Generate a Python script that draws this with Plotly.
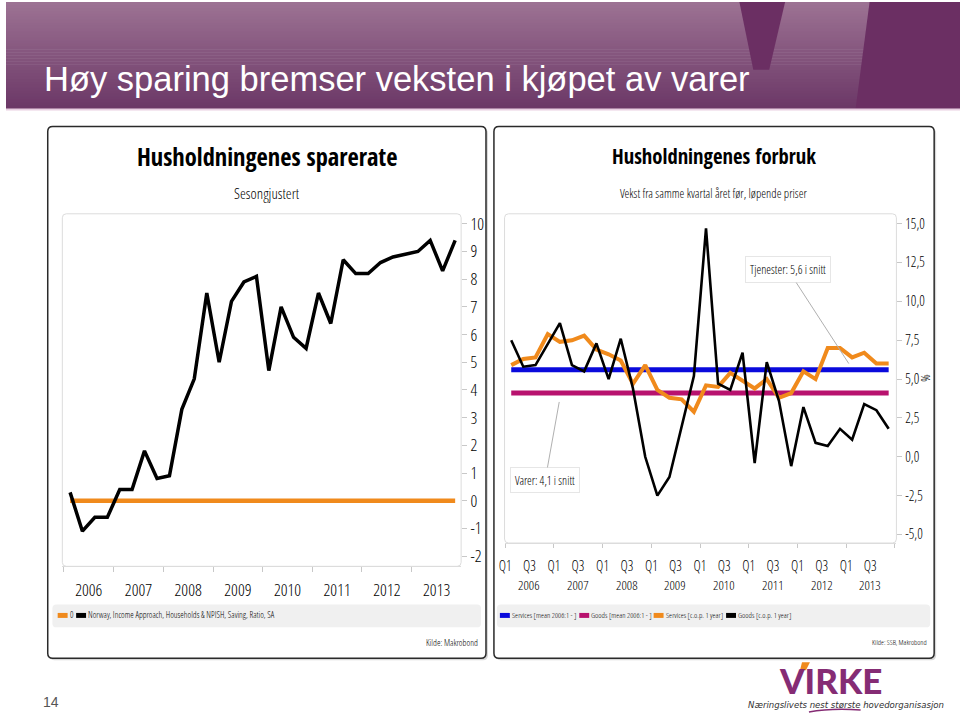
import plotly.graph_objects as go

W, H = 960, 717

# ---------------- data ----------------
years = [2006, 2007, 2008, 2009, 2010, 2011, 2012, 2013]
quarter_months = ["01", "04", "07", "10"]
quarters = [f"{y}-{m}-01" for y in years for m in quarter_months]

# Left panel: household saving ratio (seasonally adjusted), %
saving_ratio = [0.3, -1.1, -0.6, -0.6, 0.4, 0.4, 1.8, 0.8,
                0.9, 3.3, 4.4, 7.5, 5.0, 7.2, 7.9, 8.1,
                4.7, 7.0, 5.9, 5.5, 7.5, 6.4, 8.7, 8.2,
                8.2, 8.6, 8.8, 8.9, 9.0, 9.4, 8.3, 9.4]
zero_line = [0.0] * len(quarters)

# Right panel: consumption growth y/y, current prices, %
services_cop = [5.9, 6.3, 6.4, 7.9, 7.4, 7.5, 7.8, 6.9,
                6.6, 6.2, 4.7, 5.9, 4.3, 3.8, 3.7, 2.9,
                4.6, 4.5, 5.4, 4.9, 4.4, 5.0, 3.8, 4.1,
                5.5, 5.0, 7.0, 7.0, 6.4, 6.7, 6.0, 6.0]
goods_cop = [7.5, 5.8, 5.9, 7.3, 8.6, 5.9, 5.5, 7.3,
             5.0, 7.6, 4.4, 0.0, -2.5, -1.3, 1.9, 5.2,
             14.7, 4.7, 4.3, 6.7, -0.4, 6.1, 3.6, -0.6,
             3.2, 0.9, 0.7, 1.8, 1.1, 3.4, 3.0, 1.8]
services_mean_value = 5.6
goods_mean_value = 4.1
services_mean = [services_mean_value] * len(quarters)
goods_mean = [goods_mean_value] * len(quarters)

left_ytick_vals = [-2, -1, 0, 1, 2, 3, 4, 5, 6, 7, 8, 9, 10]
left_ytick_text = ["-2", "-1", "0", "1", "2", "3", "4", "5", "6", "7", "8", "9", "10"]
right_ytick_vals = [-5, -2.5, 0, 2.5, 5, 7.5, 10, 12.5, 15]
right_ytick_text = ["-5,0", "-2,5", "0,0", "2,5", "5,0", "7,5", "10,0", "12,5", "15,0"]
right_xtick_vals = [d for y in years for d in (f"{y}-01-01", f"{y}-07-01")]
right_xtick_text = [t for y in years for t in ("Q1", "Q3")]
right_year_labels = [str(y) for y in years]

left_legend = ["0", "Norway, Income Approach, Households & NPISH, Saving, Ratio, SA"]
right_legend = ["Services [mean 2006:1 - ]", "Goods [mean 2006:1 - ]",
                "Services [c.o.p. 1 year]", "Goods [c.o.p. 1 year]"]

# ---------------- styles ----------------
NARROW = "Open Sans Condensed Light, sans-serif"
NARROW_W = 300
NARROW_BOLD = "Open Sans Condensed, sans-serif"
SANS = "Liberation Sans, Arial, sans-serif"
ORANGE = "#F08A1C"
BLUE = "#0A0ADC"
MAGENTA = "#B8126E"
BLACK = "#000000"
COND = 0.73        # Open Sans Condensed Light width relative to Arial
COND_BOLD = 0.867  # Open Sans Condensed Bold width relative to Arial regular

_AW = {" ": 278, "!": 278, "[": 278, "]": 278, "(": 333, ")": 333, ",": 278, ".": 278,
       "-": 333, ":": 278, "&": 667, "%": 889, "å": 556, "ø": 611, "æ": 889}
for ch in "0123456789":
    _AW[ch] = 556
for ch, w in zip("abcdefghijklmnopqrstuvwxyz",
                 [556, 556, 500, 556, 556, 278, 556, 556, 222, 222, 500, 222, 833, 556, 556,
                  556, 556, 333, 500, 278, 556, 500, 722, 500, 500, 500]):
    _AW[ch] = w
for ch, w in zip("ABCDEFGHIJKLMNOPQRSTUVWXYZ",
                 [667, 667, 722, 722, 667, 611, 778, 722, 278, 500, 667, 556, 833, 722, 778,
                  667, 778, 722, 667, 611, 722, 667, 944, 667, 667, 611]):
    _AW[ch] = w


def text_w(s, size, factor=COND):
    return sum(_AW.get(c, 556) for c in s) / 1000 * size * factor


def fit(s, target, factor=COND):
    return target / text_w(s, 1, factor)


def px(x):
    return x / W


def py(y):
    return 1 - y / H


def rrect(x0, y0, x1, y1, r):
    pts = [
        ("M", [(x0 + r, y0)]), ("L", [(x1 - r, y0)]), ("Q", [(x1, y0), (x1, y0 + r)]),
        ("L", [(x1, y1 - r)]), ("Q", [(x1, y1), (x1 - r, y1)]), ("L", [(x0 + r, y1)]),
        ("Q", [(x0, y1), (x0, y1 - r)]), ("L", [(x0, y0 + r)]), ("Q", [(x0, y0), (x0 + r, y0)]),
    ]
    s = ""
    for cmd, coords in pts:
        s += cmd + " " + " ".join(f"{px(a):.5f},{py(b):.5f}" for a, b in coords) + " "
    return s + "Z"


def poly(points):
    s = "M " + " L ".join(f"{px(a):.5f},{py(b):.5f}" for a, b in points)
    return s + " Z"


def nfont(size, color="black"):
    return dict(family=NARROW, size=size, color=color, weight=NARROW_W)


fig = go.Figure()
period_kw = dict(xperiod="M3", xperiodalignment="middle", showlegend=False)

fig.add_trace(go.Scatter(x=quarters, y=zero_line, mode="lines", name=left_legend[0],
                         line=dict(color=ORANGE, width=4.5), xaxis="x", yaxis="y", **period_kw))
fig.add_trace(go.Scatter(x=quarters, y=saving_ratio, mode="lines", name=left_legend[1],
                         line=dict(color=BLACK, width=3.5), xaxis="x", yaxis="y", **period_kw))
fig.add_trace(go.Scatter(x=quarters, y=services_mean, mode="lines", name=right_legend[0],
                         line=dict(color=BLUE, width=5), xaxis="x2", yaxis="y2", **period_kw))
fig.add_trace(go.Scatter(x=quarters, y=goods_mean, mode="lines", name=right_legend[1],
                         line=dict(color=MAGENTA, width=5), xaxis="x2", yaxis="y2", **period_kw))
fig.add_trace(go.Scatter(x=quarters, y=services_cop, mode="lines", name=right_legend[2],
                         line=dict(color=ORANGE, width=4), xaxis="x2", yaxis="y2", **period_kw))
fig.add_trace(go.Scatter(x=quarters, y=goods_cop, mode="lines", name=right_legend[3],
                         line=dict(color=BLACK, width=2.6), xaxis="x2", yaxis="y2", **period_kw))

shapes = []
annotations = []

# ---------- header band ----------
top_c = (156, 114, 147)
bot_c = (108, 56, 103)
n_bands = 36
band_h = 107 / n_bands
for i in range(n_bands):
    t = i / (n_bands - 1)
    c = tuple(int(round(top_c[k] + (bot_c[k] - top_c[k]) * t)) for k in range(3))
    shapes.append(dict(type="rect", xref="paper", yref="paper", layer="below",
                       x0=0, x1=1, y0=py(i * band_h + band_h + 0.5), y1=py(i * band_h),
                       fillcolor=f"rgb{c}", line=dict(width=0)))
shapes.append(dict(type="path", xref="paper", yref="paper", layer="below",
                   path=poly([(738, 0), (784, 0), (768, 68), (752, 68)]),
                   fillcolor="#6B2F63", line=dict(width=0)))
shapes.append(dict(type="path", xref="paper", yref="paper", layer="below",
                   path=poly([(869, 0), (960, 0), (960, 107), (855, 107)]),
                   fillcolor="#6B2F63", line=dict(width=0)))
shapes.append(dict(type="rect", xref="paper", yref="paper", layer="below",
                   x0=0, x1=1, y0=py(109), y1=py(107),
                   fillcolor="#E9CFE2", line=dict(width=0)))

annotations.append(dict(text="Høy sparing bremser veksten i kjøpet av varer",
                        x=px(37), y=py(77), xref="paper", yref="paper",
                        xanchor="left", yanchor="middle", showarrow=False, borderpad=0,
                        font=dict(family=SANS, size=34.5, color="white")))

# ---------- panel frames ----------
for (x0, x1) in [(42, 483), (491, 934)]:
    shapes.append(dict(type="path", xref="paper", yref="paper", layer="below",
                       path=rrect(x0 + 2, 127, x1 + 2, 661, 5),
                       fillcolor="#D8D8D8", line=dict(width=0)))
    shapes.append(dict(type="path", xref="paper", yref="paper", layer="below",
                       path=rrect(x0, 125, x1, 659, 5),
                       fillcolor="white", line=dict(color="#2A2A2A", width=1.5)))

shapes.append(dict(type="path", xref="paper", yref="paper", layer="below",
                   path=rrect(56.7, 212.7, 458, 566.7, 4),
                   fillcolor="white", line=dict(color="#DCDCDC", width=1)))
shapes.append(dict(type="path", xref="paper", yref="paper", layer="below",
                   path=rrect(501.7, 212.7, 896, 543.3, 4),
                   fillcolor="white", line=dict(color="#DCDCDC", width=1)))
shapes.append(dict(type="path", xref="paper", yref="paper", layer="below",
                   path=rrect(46.7, 605, 478, 628, 4),
                   fillcolor="#F0F0F0", line=dict(width=0)))
shapes.append(dict(type="path", xref="paper", yref="paper", layer="below",
                   path=rrect(494, 605, 930, 628, 4),
                   fillcolor="#F0F0F0", line=dict(width=0)))


def ann(text, x, y, font, xanchor="center", **kw):
    annotations.append(dict(text=text, x=px(x), y=py(y),
                            xref="paper", yref="paper", xanchor=xanchor, yanchor="middle",
                            showarrow=False, font=font, **kw))


t1 = "Husholdningenes sparerate"
t2 = "Husholdningenes forbruk"
for t, cx, w in [(t1, 262.5, 259), (t2, 712.5, 199)]:
    ann(t, cx, 155, dict(family=NARROW_BOLD, size=fit(t, w, COND_BOLD), color="black", weight=700))
s1 = "Sesongjustert"
s2 = "Vekst fra samme kvartal året før, løpende priser"
ann(s1, 262.5, 192, nfont(fit(s1, 67)))
ann(s2, 712, 192, nfont(fit(s2, 190)))
k1 = "Kilde: Makrobond"
k2 = "Kilde: SSB, Makrobond"
ann(k1, 477, 643, nfont(fit(k1, 51)), xanchor="right")
ann(k2, 928.5, 643, nfont(fit(k2, 56)), xanchor="right")
ann("%", 925, 378, nfont(13), textangle=90)

# year labels under the quarter labels of the right chart
for y, lab in zip(years, right_year_labels):
    annotations.append(dict(text=lab, x=f"{y}-07-01", y=py(585), xref="x2", yref="paper",
                            xanchor="center", yanchor="middle", showarrow=False,
                            font=nfont(13.5)))


# ---------- custom legends ----------
def legend_row(x_start, entries, size):
    x = x_start
    for col, label in entries:
        shapes.append(dict(type="rect", xref="paper", yref="paper",
                           x0=px(x), x1=px(x + 10), y0=py(618.5), y1=py(613.5),
                           fillcolor=col, line=dict(width=0)))
        ann(label, x + 11, 616, nfont(size), xanchor="left", borderpad=0)
        x += 11 + text_w(label, size) + 4


legend_row(52, list(zip([ORANGE, BLACK], left_legend)), 8.8)
legend_row(497, list(zip([BLUE, MAGENTA, ORANGE, BLACK], right_legend)), 7.8)

# ---------- callouts in the right chart ----------
c1 = "Tjenester: 5,6 i snitt"
c2 = "Varer: 4,1 i snitt"
for text, xd, yv, ax, ay, wt in [(c1, "2013-01-21", 6.0, -61, -94, 77),
                                 (c2, "2007-02-10", 3.53, -14, 78, 61)]:
    annotations.append(dict(text=text, x=xd, y=yv, xref="x2", yref="y2",
                            ax=ax, ay=ay, axref="pixel", ayref="pixel",
                            showarrow=True, arrowhead=0, arrowwidth=1, arrowcolor="#B0B0B0",
                            bgcolor="white", bordercolor="#E6E6E6", borderwidth=1, borderpad=4,
                            font=nfont(fit(text, wt))))

# ---------- footer ----------
ann("14", 45, 703, dict(family=SANS, size=14, color="#555555"))
ann("VIRKE", 830, 681, dict(family="Lato, Roboto, sans-serif", size=35, color="#852C74", weight=900))
shapes.append(dict(type="path", xref="paper", yref="paper",
                   path=poly([(801, 663), (809, 663), (805, 671), (799, 671)]),
                   fillcolor=ORANGE, line=dict(width=0)))
ann("<i>Næringslivets nest største hovedorganisasjon</i>", 845, 705,
    dict(family="DejaVu Sans Condensed, sans-serif", size=9.5, color="#333333"))
shapes.append(dict(type="path", xref="paper", yref="paper",
                   path=f"M {px(808):.5f},{py(713):.5f} Q {px(830):.5f},{py(709):.5f} {px(860):.5f},{py(711):.5f}",
                   line=dict(color="#852C74", width=1.5)))

fig.update_layout(
    width=W, height=H,
    margin=dict(l=0, r=0, t=0, b=0),
    paper_bgcolor="white",
    plot_bgcolor="rgba(0,0,0,0)",
    showlegend=False,
    hovermode=False,
    shapes=shapes,
    annotations=annotations,
    xaxis=dict(domain=[px(56.7), px(458)], anchor="y", type="date",
               range=["2005-12-20", "2013-12-30"],
               dtick="M12", tick0="2006-01-01", tickformat="%Y", ticklabelmode="period",
               ticks="outside", ticklen=5, tickcolor="#C8C8C8", tickwidth=1, tickangle=0,
               ticklabelstandoff=3,
               showgrid=False, zeroline=False, showline=True, linecolor="#DCDCDC",
               tickfont=nfont(17)),
    yaxis=dict(domain=[py(566.7), py(212.7)], anchor="x", side="right",
               range=[-2.37, 10.36], tickvals=left_ytick_vals, ticktext=left_ytick_text,
               ticks="outside", ticklen=5, tickcolor="#C8C8C8", tickwidth=1,
               showgrid=False, zeroline=False, showline=False,
               tickfont=nfont(17)),
    xaxis2=dict(domain=[px(501.7), px(896)], anchor="y2", type="date",
                range=["2005-12-27", "2014-01-13"],
                tickmode="array", tickvals=right_xtick_vals, ticktext=right_xtick_text,
                ticks="outside", ticklen=10, tickcolor="rgba(0,0,0,0)", tickangle=0,
                showgrid=False, zeroline=False, showline=True, linecolor="#DCDCDC",
                minor=dict(ticks="outside", ticklen=4, tickcolor="#C8C8C8",
                           dtick="M12", tick0="2006-01-01", showgrid=False),
                tickfont=nfont(14)),
    yaxis2=dict(domain=[py(543.3), py(212.7)], anchor="x2", side="right",
                range=[-5.55, 15.64], tickvals=right_ytick_vals, ticktext=right_ytick_text,
                ticks="outside", ticklen=5, tickcolor="#C8C8C8", tickwidth=1,
                showgrid=False, zeroline=False, showline=False,
                tickfont=nfont(14)),
)

fig.write_html("out.html", config={"displayModeBar": False, "staticPlot": True},
               post_script="document.body.style.margin='0px';document.body.style.overflow='hidden';")
